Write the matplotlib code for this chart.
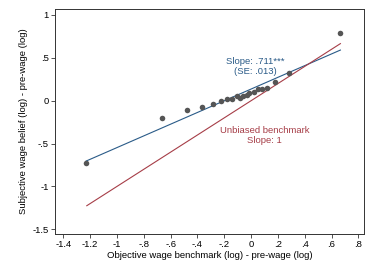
import matplotlib
matplotlib.use('Agg')
import matplotlib.pyplot as plt
import numpy as np

plt.rcParams['font.family'] = ['Liberation Sans', 'DejaVu Sans']

# binned scatter points
bin_x = [-1.230, -0.664, -0.477, -0.363, -0.281, -0.221, -0.176, -0.139, -0.107, -0.082,
         -0.057, -0.032, -0.012, 0.022, 0.050, 0.082, 0.119, 0.176, 0.281, 0.666]
bin_y = [-0.731, -0.206, -0.113, -0.074, -0.035, 0.000, 0.016, 0.023, 0.054, 0.035,
         0.054, 0.070, 0.086, 0.097, 0.132, 0.132, 0.152, 0.222, 0.319, 0.786]

# fitted line endpoints and 45-degree benchmark
fit_x = [-1.230, 0.666]
fit_y = [-0.704, 0.591]
bench_x = [-1.225, 0.666]
bench_y = [-1.225, 0.666]

xticks = [-1.4, -1.2, -1, -0.8, -0.6, -0.4, -0.2, 0, 0.2, 0.4, 0.6, 0.8]
xticklabels = ['-1.4', '-1.2', '-1', '-.8', '-.6', '-.4', '-.2', '0', '.2', '.4', '.6', '.8']
yticks = [-1.5, -1, -0.5, 0, 0.5, 1]
yticklabels = ['-1.5', '-1', '-.5', '0', '.5', '1']

navy = '#2a5b88'
maroon = '#a63d47'
fs = 6.8

fig = plt.figure(figsize=(3.74, 2.72), dpi=100)
ax = fig.add_axes([55 / 374, 1 - 234 / 272, (364 - 55) / 374, (234 - 9) / 272])

ax.scatter(bin_x, bin_y, s=16, color='#555555', zorder=3, linewidths=0)
ax.plot(fit_x, fit_y, color=navy, lw=0.8)
ax.plot(bench_x, bench_y, color=maroon, lw=0.8)

ax.text(0.03, 0.40, 'Slope: .711***\n(SE: .013)', color=navy, fontsize=fs,
        ha='center', va='center', linespacing=1.05)
ax.text(0.10, -0.405, 'Unbiased benchmark\nSlope: 1', color=maroon, fontsize=fs,
        ha='center', va='center', linespacing=1.05)

ax.set_xlim(-1.462, 0.842)
ax.set_ylim(-1.555, 1.07)
ax.set_xticks(xticks)
ax.set_xticklabels(xticklabels)
ax.set_yticks(yticks)
ax.set_yticklabels(yticklabels)
ax.tick_params(labelsize=fs, length=3, width=0.6, color='#333333', pad=1.5)
for s in ax.spines.values():
    s.set_linewidth(0.7)
    s.set_color('#333333')

ax.set_xlabel('Objective wage benchmark (log) - pre-wage (log)', fontsize=fs, labelpad=1)
ax.set_ylabel('Subjective wage belief (log) - pre-wage (log)', fontsize=fs, labelpad=3)

fig.savefig('out.png', dpi=100)
